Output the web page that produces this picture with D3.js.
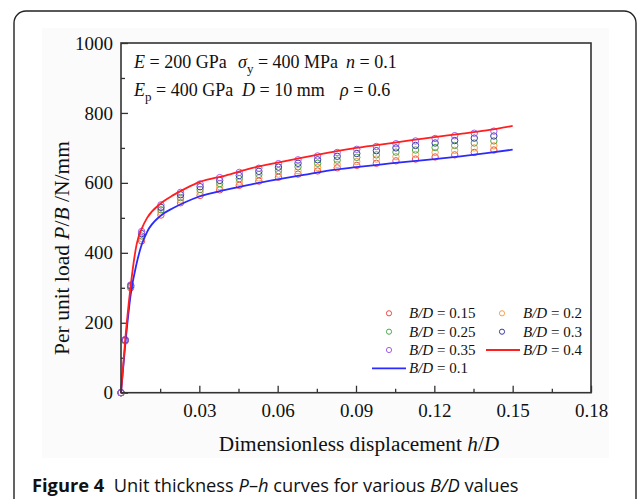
<!DOCTYPE html>
<html>
<head>
<meta charset="utf-8">
<script src="https://cdn.jsdelivr.net/npm/d3@7/dist/d3.min.js"></script>
<style>
body { margin: 0; background: #fff; }
svg { display: block; }
.serif { font-family: "Liberation Serif", "Times New Roman", serif; fill: #111; }
</style>
</head>
<body>
<svg id="chart"></svg>
<script>
// dimensionless displacement h/D where the FE markers sit
const markerH = [0, 0.0016, 0.0037, 0.0079, 0.0153, 0.0228, 0.0303, 0.0378, 0.0453, 0.0528, 0.0603,
    0.0678, 0.0753, 0.0828, 0.0903, 0.0978, 0.1053, 0.1128, 0.1203, 0.1278, 0.1353, 0.1428];
const bd015 = [0, 148, 300, 434, 508, 543, 564, 580, 593, 605, 616, 625, 634, 643, 650, 656, 663, 668, 674, 680, 687, 694];
const bd02  = [0, 149, 302, 441, 516, 551, 573, 589, 602, 614, 625, 635, 644, 653, 661, 668, 675, 681, 687, 693, 700, 706];
const bd025 = [0, 150, 304, 448, 523, 558, 581, 598, 612, 624, 635, 646, 656, 665, 673, 680, 688, 694, 701, 707, 714, 720];
const bd03  = [0, 151, 306, 455, 530, 566, 589, 607, 621, 633, 645, 656, 666, 676, 684, 692, 700, 707, 714, 721, 728, 734];
const bd035 = [0, 152, 308, 461, 537, 573, 597, 615, 630, 642, 655, 666, 677, 687, 696, 704, 712, 720, 727, 735, 742, 748];

// curves for B/D = 0.1 and 0.4
const lineH = [0, 0.0016, 0.0037, 0.006, 0.008, 0.01, 0.015, 0.02, 0.025, 0.03, 0.04, 0.05, 0.06,
    0.07, 0.08, 0.09, 0.10, 0.11, 0.12, 0.13, 0.14, 0.15];
const bd01 = [0, 135, 280, 370, 425, 460, 505, 528, 546, 561, 580, 596, 610, 623, 636, 645, 653, 661, 668, 676, 685, 695];
const bd04 = [0, 150, 305, 425, 470, 500, 540, 565, 585, 602, 621, 642, 658, 673, 687, 700, 710, 721, 731, 740, 750, 763];

const xTicks = [0.03, 0.06, 0.09, 0.12, 0.15, 0.18];
const xMinor = [0.015, 0.045, 0.075, 0.105, 0.135, 0.165];
const yTicks = [0, 200, 400, 600, 800, 1000];
const yMinor = [100, 300, 500, 700, 900];

const W = 637, H = 499;
const margin = {top: 43, right: 46, bottom: 106.3, left: 121};
const iw = W - margin.left - margin.right;
const ih = H - margin.top - margin.bottom;

const svg = d3.select('#chart').attr('width', W).attr('height', H);

// journal figure frame
svg.append('rect')
    .attr('x', 14).attr('y', 11).attr('width', 622).attr('height', 600)
    .attr('rx', 12).attr('fill', 'none').attr('stroke', '#222').attr('stroke-width', 1.4);
svg.append('rect')
    .attr('x', 42).attr('y', 28).attr('width', 567).attr('height', 430)
    .attr('fill', '#fbfbfb');

const chart = svg.append('g').attr('transform', `translate(${margin.left},${margin.top})`);
chart.append('rect').attr('width', iw).attr('height', ih).attr('fill', '#fff');

const x = d3.scaleLinear().domain([0, 0.18]).range([0, iw]);
const y = d3.scaleLinear().domain([0, 1000]).range([ih, 0]);

const xAxis = d3.axisBottom(x).tickValues(xTicks).tickFormat(d3.format('.2f'))
    .tickSizeInner(-7).tickSizeOuter(0).tickPadding(11);
const xAxisMinor = d3.axisBottom(x).tickValues(xMinor).tickFormat('').tickSizeInner(-4).tickSizeOuter(0);
const yAxis = d3.axisLeft(y).tickValues(yTicks).tickFormat(d3.format('d'))
    .tickSizeInner(-7).tickSizeOuter(0).tickPadding(8);
const yAxisMinor = d3.axisLeft(y).tickValues(yMinor).tickFormat('').tickSizeInner(-4).tickSizeOuter(0);

function styleAxis(g) {
    g.select('.domain').remove();
    g.selectAll('line').attr('stroke', '#333').attr('stroke-width', 1.3);
    g.selectAll('text').attr('class', 'serif').style('font-size', '19px').attr('fill', '#111');
}
chart.append('g').attr('transform', `translate(0,${ih})`).call(xAxis).call(styleAxis);
chart.append('g').attr('transform', `translate(0,${ih})`).call(xAxisMinor).call(styleAxis);
chart.append('g').call(yAxis).call(styleAxis);
chart.append('g').call(yAxisMinor).call(styleAxis);

const markerSeries = [
    {name: '0.15', values: bd015, color: '#f04a4a'},
    {name: '0.2',  values: bd02,  color: '#f7a04a'},
    {name: '0.25', values: bd025, color: '#4ea84e'},
    {name: '0.3',  values: bd03,  color: '#3a3aa0'},
    {name: '0.35', values: bd035, color: '#a45cf0'},
];
const lineSeries = [
    {name: '0.1', values: bd01, color: '#2b2bff'},
    {name: '0.4', values: bd04, color: '#ff1f1f'},
];

const line = d3.line().x(d => x(d[0])).y(d => y(d[1])).curve(d3.curveMonotoneX);

markerSeries.forEach(s => {
    chart.append('g').selectAll('circle')
        .data(markerH.map((h, i) => [h, s.values[i]]))
        .join('circle')
        .attr('cx', d => x(d[0]))
        .attr('cy', d => y(d[1]))
        .attr('r', 3.2)
        .attr('fill', 'none')
        .attr('stroke', s.color)
        .attr('stroke-width', 1);
});

lineSeries.forEach(s => {
    chart.append('path')
        .datum(lineH.map((h, i) => [h, s.values[i]]))
        .attr('d', line)
        .attr('fill', 'none')
        .attr('stroke', s.color)
        .attr('stroke-width', 1.8);
});

// plot box
chart.append('rect').attr('width', iw).attr('height', ih)
    .attr('fill', 'none').attr('stroke', '#333').attr('stroke-width', 1.6);

// material parameters
function row(yp, segs) {
    const t = svg.append('text').attr('class', 'serif').style('font-size', '18px');
    segs.forEach(s => {
        const g = t.append('tspan').attr('x', s.x).attr('y', yp);
        s.parts.forEach(p => {
            const sp = g.append('tspan').text(p.t);
            if (p.i) sp.style('font-style', 'italic');
            if (p.sub) sp.style('font-size', '13px').attr('dy', 5);
            if (p.up) sp.attr('dy', -5);
        });
    });
}
row(68, [
    {x: 134, parts: [{t: 'E', i: true}, {t: ' = 200 GPa'}]},
    {x: 238, parts: [{t: 'σ', i: true}, {t: 'y', sub: true}, {t: ' = 400 MPa', up: true}]},
    {x: 346, parts: [{t: 'n', i: true}, {t: ' = 0.1'}]},
]);
row(96, [
    {x: 134, parts: [{t: 'E', i: true}, {t: 'p', sub: true}, {t: ' = 400 GPa', up: true}]},
    {x: 242, parts: [{t: 'D', i: true}, {t: ' = 10 mm'}]},
    {x: 340, parts: [{t: 'ρ', i: true}, {t: ' = 0.6'}]},
]);

// legend
const legendItems = [
    {s: markerSeries[0], type: 'c', mx: 389, tx: 409, ly: 313.3},
    {s: markerSeries[1], type: 'c', mx: 502, tx: 523, ly: 313.3},
    {s: markerSeries[2], type: 'c', mx: 389, tx: 409, ly: 331.7},
    {s: markerSeries[3], type: 'c', mx: 502, tx: 523, ly: 331.7},
    {s: markerSeries[4], type: 'c', mx: 389, tx: 409, ly: 350},
    {s: lineSeries[1], type: 'l', mx: 503, tx: 523, ly: 350},
    {s: lineSeries[0], type: 'l', mx: 389, tx: 409, ly: 368.3},
];
legendItems.forEach(d => {
    if (d.type === 'c') {
        svg.append('circle').attr('cx', d.mx).attr('cy', d.ly).attr('r', 2.6)
            .attr('fill', 'none').attr('stroke', d.s.color).attr('stroke-width', 1);
    } else {
        svg.append('line').attr('x1', d.mx - 17).attr('x2', d.mx + 17)
            .attr('y1', d.ly).attr('y2', d.ly)
            .attr('stroke', d.s.color).attr('stroke-width', 1.8);
    }
    const t = svg.append('text').attr('class', 'serif').style('font-size', '15px')
        .attr('x', d.tx).attr('y', d.ly + 5);
    t.append('tspan').text('B/D').style('font-style', 'italic');
    t.append('tspan').text(' = ' + d.s.name);
});

// axis titles
const xt = svg.append('text').attr('class', 'serif').style('font-size', '21.3px')
    .attr('x', 359).attr('y', 451).attr('text-anchor', 'middle');
xt.append('tspan').text('Dimensionless displacement ');
xt.append('tspan').text('h').style('font-style', 'italic');
xt.append('tspan').text('/');
xt.append('tspan').text('D').style('font-style', 'italic');

const yt = svg.append('text').attr('class', 'serif').style('font-size', '21.5px')
    .attr('transform', 'translate(69,248) rotate(-90)').attr('text-anchor', 'middle');
yt.append('tspan').text('Per unit load ');
yt.append('tspan').text('P').style('font-style', 'italic');
yt.append('tspan').text('/');
yt.append('tspan').text('B').style('font-style', 'italic');
yt.append('tspan').text(' /N/mm');

// caption
const cap = svg.append('text').attr('x', 32).attr('y', 492)
    .style('font-family', '"Open Sans", "Noto Sans", sans-serif').style('font-size', '18.3px').attr('fill', '#111');
cap.append('tspan').text('Figure 4').style('font-weight', 'bold');
cap.append('tspan').text('\u00a0\u00a0Unit thickness ');
cap.append('tspan').text('P').style('font-style', 'italic');
cap.append('tspan').text('–');
cap.append('tspan').text('h').style('font-style', 'italic');
cap.append('tspan').text(' curves for various ');
cap.append('tspan').text('B/D').style('font-style', 'italic');
cap.append('tspan').text(' values');
</script>
</body>
</html>
